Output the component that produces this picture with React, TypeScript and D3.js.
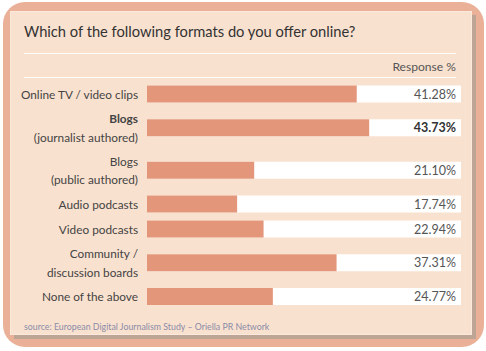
import React from "react";
import * as d3 from "d3";

const categories: string[][] = [
  ["Online TV / video clips"],
  ["Blogs", "(journalist authored)"],
  ["Blogs", "(public authored)"],
  ["Audio podcasts"],
  ["Video podcasts"],
  ["Community /", "discussion boards"],
  ["None of the above"],
];
const values: number[] = [41.28, 43.73, 21.1, 17.74, 22.94, 37.31, 24.77];
const highlighted: boolean[] = [false, true, false, false, false, false, false];
const title = "Which of the following formats do you offer online?";
const columnHeader = "Response %";
const source = "source: European Digital Journalism Study \u2013 Oriella PR Network";

const W = 486;
const H = 351;
const FONT = "Lato, 'DejaVu Sans', sans-serif";

export default function App() {
  const x = d3.scaleLinear().domain([0, 61.8]).range([147, 461]);
  const rowH = categories.map((c) => (c.length > 1 ? 42.5 : 25));
  const tops: number[] = [];
  let acc = 81.5;
  rowH.forEach((h) => {
    tops.push(acc);
    acc += h;
  });
  const barH = 17;
  const fmt = (v: number) => v.toFixed(2) + "%";

  return (
    <svg width={W} height={H} style={{ position: "absolute", left: 0, top: 0 }} fontFamily={FONT}>
      <rect x={0} y={0} width={W} height={H} fill="#ffffff" />
      <rect x={3} y={2} width={481} height={345} rx={22} ry={22} fill="#eab098" />
      <rect x={14} y={15} width={462} height={324} fill="#bda596" />
      <rect x={10} y={11} width={462} height={324} fill="#f9e1cf" />
      <rect x={10.5} y={11.5} width={461} height={323} fill="none" stroke="#fbe9dc" strokeWidth={1} />
      <text x={24} y={37} fontSize={14.7} fill="#333333">
        {title}
      </text>
      <line x1={24} x2={456} y1={53.5} y2={53.5} stroke="#ffffff" strokeWidth={1.2} />
      <line x1={24} x2={456} y1={77.5} y2={77.5} stroke="#ffffff" strokeWidth={1.2} />
      <text x={456} y={71} fontSize={12.1} fill="#555555" textAnchor="end">
        {columnHeader}
      </text>
      {categories.map((lines, i) => {
        const cy = tops[i] + rowH[i] / 2;
        const bold = highlighted[i];
        return (
          <g key={i}>
            <rect x={x(0)} y={cy - barH / 2} width={x.range()[1] - x(0)} height={barH} fill="#ffffff" />
            <rect x={x(0)} y={cy - barH / 2} width={x(values[i]) - x(0)} height={barH} fill="#e3967a" />
            {lines.map((l, j) => (
              <text
                key={j}
                x={138}
                y={cy + (j - (lines.length - 1) / 2) * 18.5 + 4.5}
                fontSize={11.8}
                fill="#444444"
                textAnchor="end"
                fontWeight={bold && j === 0 ? "bold" : "normal"}
              >
                {l}
              </text>
            ))}
            <text
              x={456}
              y={cy + 4.5}
              fontSize={12.5}
              fill={bold ? "#333333" : "#555555"}
              textAnchor="end"
              fontWeight={bold ? "bold" : "normal"}
            >
              {fmt(values[i])}
            </text>
          </g>
        );
      })}
      <text x={24} y={330} fontSize={8.8} fill="#8a8ca8">
        {source}
      </text>
    </svg>
  );
}
